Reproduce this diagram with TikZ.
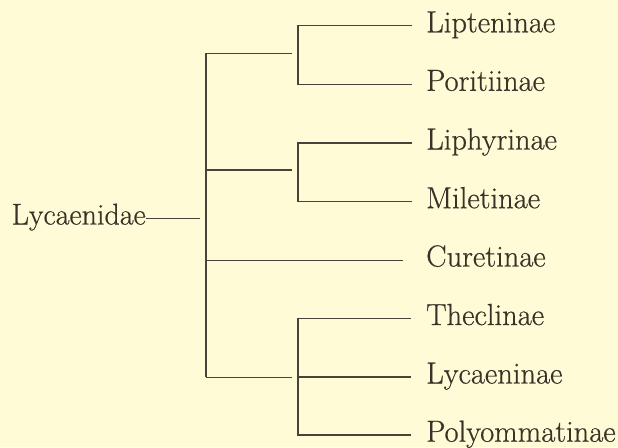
\documentclass[tikz,border=0pt]{standalone}
\usepackage{fontspec}
\newfontfamily\taxfont{Latin Modern Roman}[FakeBold=0.6]
\usetikzlibrary{calc}
\definecolor{bg}{RGB}{254,252,214}
\definecolor{ink}{RGB}{58,50,40}
\definecolor{rule}{RGB}{72,66,56}
\begin{document}
\begin{tikzpicture}[x=1pt,y=-1pt,
  taxon/.style={anchor=base west,inner sep=0pt,text=ink,font=\taxfont\fontsize{30.5}{32}\selectfont},
  rootlabel/.style={anchor=base east,inner sep=0pt,text=ink,font=\taxfont\fontsize{30}{32}\selectfont},
  branch/.style={draw=rule,line width=1.5pt}]
\fill[bg] (0,0) rectangle (618,447);
\useasboundingbox (0,0) rectangle (618,447);
% labels
\node[rootlabel] (root) at (146,224.5) {Lycaenidae};
\node[taxon] (lip) at (426,32.3) {Lipteninae};
\node[taxon] (por) at (426,90.8) {Poritiinae};
\node[taxon] (liph) at (426,149.5) {Liphyrinae};
\node[taxon] (mil) at (426,208.2) {Miletinae};
\node[taxon] (cur) at (426,266.5) {Curetinae};
\node[taxon] (the) at (426,325) {Theclinae};
\node[taxon] (lyc) at (426,383.5) {Lycaeninae};
\node[taxon] (pol) at (426,441.7) {Polyommatinae};
% line ends near labels
\coordinate (e1) at (412,25.7);
\coordinate (e2) at (412,84.3);
\coordinate (e3) at (412,143);
\coordinate (e4) at (412,201.7);
\coordinate (e5) at (403,260.3);
\coordinate (e6) at (411,318.5);
\coordinate (e7) at (411,377);
\coordinate (e8) at (411,435);
% junctions
\coordinate (r0) at (200,218.3);
\coordinate (mtop) at (206,53.3);
\coordinate (mbot) at (206,377.3);
\coordinate (b1) at (292,53.3);
\coordinate (b2) at (292,170);
\coordinate (b3) at (206,170);
\coordinate (b4) at (292,377.3);
\coordinate (c0) at (206,260.3);
% root
\draw[branch] (root.base east |- r0) -- (r0);
% main vertical
\draw[branch] (mtop) -- (mbot);
% branches from main
\draw[branch] (mtop) -- (b1);
\draw[branch] (b3) -- (b2);
\draw[branch] (c0) -- (e5);
\draw[branch] (mbot) -- (b4);
% clade 1
\draw[branch] (e1) -- (298,25.7) -- (298,84.3) -- (e2);
% clade 2
\draw[branch] (e3) -- (298,143) -- (298,201.7) -- (e4);
% clade 3
\draw[branch] (e6) -- (298,318.5) -- (298,435) -- (e8);
\draw[branch] (298,377) -- (e7);
\end{tikzpicture}
\end{document}
